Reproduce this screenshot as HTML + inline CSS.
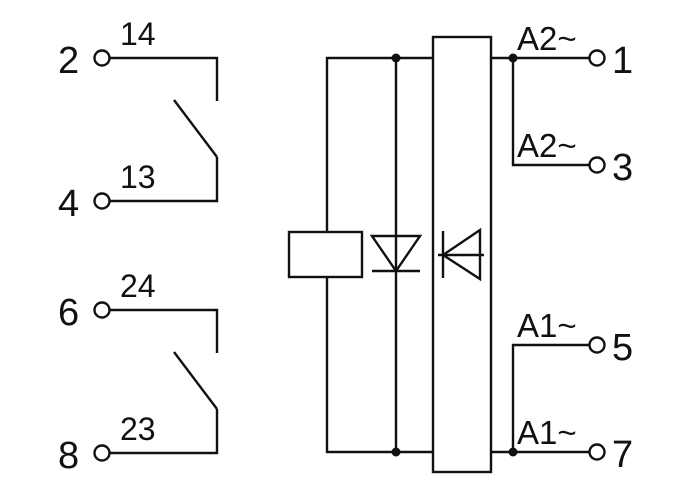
<!DOCTYPE html>
<html><head><style>
html,body{margin:0;padding:0;background:#fff;}
svg{display:block;}
text{font-family:"Liberation Sans",sans-serif;font-size:32px;fill:#111;}
text.n{font-size:38px;}
text.a{font-size:33px;}
</style></head><body>
<svg width="697" height="496" viewBox="0 0 697 496" xmlns="http://www.w3.org/2000/svg">
<g stroke="#111" stroke-width="2.4" fill="none">
<circle cx="102" cy="58" r="7.5"/>
<polyline points="110,58 217,58 217,101"/>
<line x1="174" y1="100" x2="217" y2="157"/>
<polyline points="217,157 217,201 110,201"/>
<circle cx="102" cy="201" r="7.5"/>
<circle cx="102" cy="310" r="7.5"/>
<polyline points="110,310 217,310 217,353"/>
<line x1="174" y1="352" x2="217" y2="409"/>
<polyline points="217,409 217,453 110,453"/>
<circle cx="102" cy="453" r="7.5"/>
<polyline points="433,58 327,58 327,232"/>
<polyline points="433,452 327,452 327,277"/>
<rect x="289" y="232" width="73" height="45"/>
<line x1="396" y1="58" x2="396" y2="452"/>
<polygon points="372,236 420,236 396,271"/>
<line x1="372" y1="271" x2="420" y2="271"/>
<rect x="433" y="37" width="58" height="435"/>
<line x1="443" y1="231" x2="443" y2="278"/>
<polygon points="443,255 480,230 480,279"/>
<line x1="438" y1="255" x2="484" y2="255"/>
<line x1="491" y1="58" x2="589" y2="58"/>
<polyline points="513,58 513,165 589,165"/>
<circle cx="597" cy="58" r="7.5"/>
<circle cx="597" cy="165" r="7.5"/>
<line x1="491" y1="452" x2="589" y2="452"/>
<polyline points="513,452 513,345 589,345"/>
<circle cx="597" cy="345" r="7.5"/>
<circle cx="597" cy="452" r="7.5"/>
</g>
<g fill="#111">
<circle cx="396" cy="58" r="4.5"/>
<circle cx="396" cy="452" r="4.5"/>
<circle cx="513" cy="58" r="4.5"/>
<circle cx="513" cy="452" r="4.5"/>
</g>
<text class="n" x="58" y="73">2</text>
<text x="120" y="45">14</text>
<text class="n" x="58" y="216">4</text>
<text x="120" y="188">13</text>
<text class="n" x="58" y="325">6</text>
<text x="120" y="297">24</text>
<text class="n" x="58" y="468">8</text>
<text x="120" y="440">23</text>
<text class="a" x="517" y="50">A2~</text>
<text class="a" x="517" y="157">A2~</text>
<text class="a" x="517" y="337">A1~</text>
<text class="a" x="517" y="444">A1~</text>
<text class="n" x="612" y="73">1</text>
<text class="n" x="612" y="180">3</text>
<text class="n" x="612" y="360">5</text>
<text class="n" x="612" y="467">7</text>
</svg>
</body></html>
